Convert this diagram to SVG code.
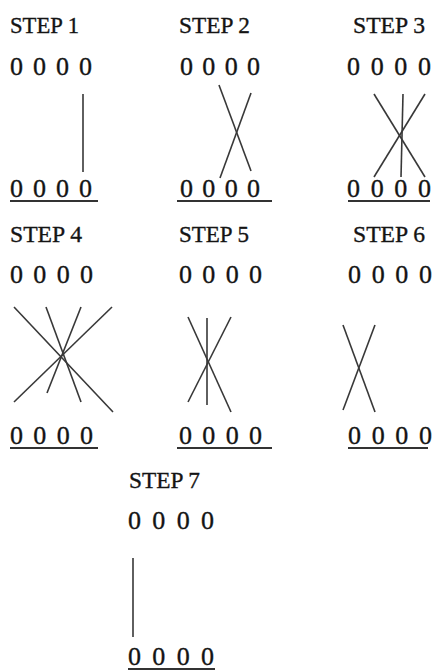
<svg xmlns="http://www.w3.org/2000/svg" width="432" height="671" viewBox="0 0 432 671">
  <style>
    .lbl { font-family: "Liberation Serif", "Times New Roman", serif; font-size: 24px; fill: #141414; stroke: #141414; stroke-width: 0.35; }
    .dig { font-family: "Liberation Serif", "Times New Roman", serif; font-size: 26px; fill: #141414; stroke: #141414; stroke-width: 0.35; }
    .rule { stroke: #333; stroke-width: 2; }
    .wire { stroke: #383838; stroke-width: 1.6; fill: none; stroke-linecap: butt; }
  </style>
  <rect width="432" height="671" fill="#ffffff"/>

  <!-- step 1 -->
  <g id="step1">
    <text class="lbl" x="10" y="33" textLength="69" lengthAdjust="spacingAndGlyphs">STEP 1</text>
    <text class="dig" x="10" y="75" textLength="82" lengthAdjust="spacing" xml:space="preserve">0 0 0 0</text>
    <text class="dig" x="10" y="197" textLength="82" lengthAdjust="spacing" xml:space="preserve">0 0 0 0</text>
    <line class="rule" x1="10" y1="201" x2="98" y2="201"/>
  </g>

  <!-- step 2 -->
  <g id="step2">
    <text class="lbl" x="179" y="33" textLength="71" lengthAdjust="spacingAndGlyphs">STEP 2</text>
    <text class="dig" x="180" y="75" textLength="80" lengthAdjust="spacing" xml:space="preserve">0 0 0 0</text>
    <text class="dig" x="180" y="197" textLength="80" lengthAdjust="spacing" xml:space="preserve">0 0 0 0</text>
    <line class="rule" x1="177" y1="201" x2="272" y2="201"/>
  </g>

  <!-- step 3 -->
  <g id="step3">
    <text class="lbl" x="353" y="33" textLength="72" lengthAdjust="spacingAndGlyphs">STEP 3</text>
    <text class="dig" x="347" y="75" textLength="84" lengthAdjust="spacing" xml:space="preserve">0 0 0 0</text>
    <text class="dig" x="347" y="197" textLength="84" lengthAdjust="spacing" xml:space="preserve">0 0 0 0</text>
    <line class="rule" x1="348" y1="201" x2="430" y2="201"/>
  </g>

  <!-- step 4 -->
  <g id="step4">
    <text class="lbl" x="10" y="242" textLength="72" lengthAdjust="spacingAndGlyphs">STEP 4</text>
    <text class="dig" x="10" y="283" textLength="83" lengthAdjust="spacing" xml:space="preserve">0 0 0 0</text>
    <text class="dig" x="10" y="444" textLength="83" lengthAdjust="spacing" xml:space="preserve">0 0 0 0</text>
    <line class="rule" x1="10" y1="448" x2="98" y2="448"/>
  </g>

  <!-- step 5 -->
  <g id="step5">
    <text class="lbl" x="179" y="242" textLength="70" lengthAdjust="spacingAndGlyphs">STEP 5</text>
    <text class="dig" x="179" y="283" textLength="83" lengthAdjust="spacing" xml:space="preserve">0 0 0 0</text>
    <text class="dig" x="179" y="444" textLength="83" lengthAdjust="spacing" xml:space="preserve">0 0 0 0</text>
    <line class="rule" x1="177" y1="448" x2="272" y2="448"/>
  </g>

  <!-- step 6 -->
  <g id="step6">
    <text class="lbl" x="353" y="242" textLength="72" lengthAdjust="spacingAndGlyphs">STEP 6</text>
    <text class="dig" x="348" y="283" textLength="84" lengthAdjust="spacing" xml:space="preserve">0 0 0 0</text>
    <text class="dig" x="348" y="444" textLength="84" lengthAdjust="spacing" xml:space="preserve">0 0 0 0</text>
    <line class="rule" x1="348" y1="448" x2="428" y2="448"/>
  </g>

  <!-- step 7 -->
  <g id="step7">
    <text class="lbl" x="129" y="488" textLength="71" lengthAdjust="spacingAndGlyphs">STEP 7</text>
    <text class="dig" x="128" y="529" textLength="86" lengthAdjust="spacing" xml:space="preserve">0 0 0 0</text>
    <text class="dig" x="128" y="665" textLength="86" lengthAdjust="spacing" xml:space="preserve">0 0 0 0</text>
    <line class="rule" x1="128" y1="669" x2="215" y2="669"/>
  </g>

  <!-- connecting strokes between the rows -->
  <g id="connectors" class="wire">
    <!-- step 1 -->
    <line x1="83" y1="94" x2="83" y2="172"/>
    <!-- step 2 -->
    <line x1="219" y1="85" x2="251" y2="171"/>
    <line x1="251" y1="93" x2="220" y2="178"/>
    <!-- step 3 -->
    <line x1="374" y1="94" x2="425" y2="177"/>
    <line x1="425" y1="94" x2="374" y2="177"/>
    <line x1="403" y1="94" x2="401" y2="177"/>
    <!-- step 4 -->
    <line x1="14" y1="307" x2="113" y2="412"/>
    <line x1="112" y1="307" x2="14" y2="402"/>
    <line x1="46" y1="307" x2="81" y2="402"/>
    <line x1="81" y1="307" x2="47" y2="393"/>
    <!-- step 5 -->
    <line x1="207" y1="318" x2="207" y2="405"/>
    <line x1="188" y1="317" x2="231" y2="412"/>
    <line x1="231" y1="317" x2="188" y2="402"/>
    <!-- step 6 -->
    <line x1="343" y1="325" x2="375" y2="412"/>
    <line x1="375" y1="325" x2="343" y2="410"/>
    <!-- step 7 -->
    <line x1="133" y1="558" x2="133" y2="637"/>
  </g>
</svg>
